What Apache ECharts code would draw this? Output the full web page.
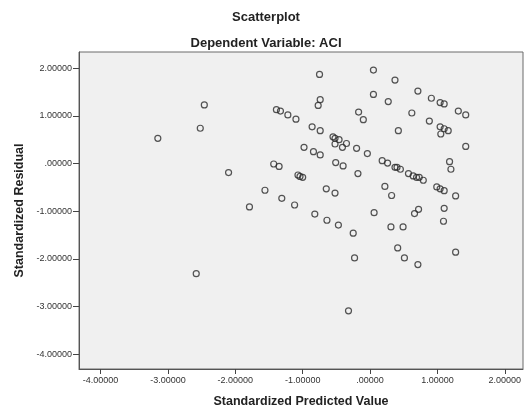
<!DOCTYPE html>
<html>
<head>
<meta charset="utf-8">
<script src="https://cdn.jsdelivr.net/npm/echarts@6/dist/echarts.min.js"></script>
<style>
    html, body { margin: 0; padding: 0; background: #fff; }
    #chart { width: 526px; height: 409px; }
</style>
</head>
<body>
<div id="chart"></div>
<script>
// 标准化预测值 (x) 与 标准化残差 (y)
const predicted = [
    -3.15, -2.46, -2.52, -2.58, -2.10, -1.79, -1.56, -1.43, -1.35, -1.39,
    -1.33, -1.22, -1.10, -1.31, -1.12, -1.07, -1.04, -1.00, -0.98, -0.84,
    -0.86, -0.74, -0.82, -0.74, -0.75, -0.74, -0.77, -0.64, -0.65, -0.52,
    -0.47, -0.55, -0.52, -0.46, -0.35, -0.52, -0.41, -0.20, -0.51, -0.40,
    -0.18, -0.25, -0.23, -0.32, -0.17, -0.10, -0.04, 0.05, 0.05, 0.37,
    0.27, 0.71, 0.91, 1.04, 1.10, 0.62, 0.88, 1.31, 1.42, 0.42,
    1.04, 1.10, 1.16, 1.05, 1.42, 0.18, 0.26, 0.37, 0.40, 0.45,
    0.57, 0.64, 0.69, 0.73, 0.79, 1.18, 1.20, 0.99, 1.04, 1.10,
    1.27, 0.22, 0.32, 0.06, 0.66, 0.72, 1.10, 1.09, 0.31, 0.49,
    0.41, 0.51, 0.71, 1.27
];
const residual = [
    0.53, 1.23, 0.74, -2.31, -0.19, -0.91, -0.56, -0.01, -0.06, 1.13,
    1.10, 1.02, 0.93, -0.73, -0.87, -0.24, -0.27, -0.29, 0.34, 0.25,
    0.77, 0.69, -1.06, 0.18, 1.87, 1.34, 1.22, -1.19, -0.53, -0.62,
    -1.29, 0.56, 0.53, 0.50, 0.42, 0.41, 0.34, 0.32, 0.02, -0.05,
    -0.21, -1.46, -1.98, -3.09, 1.08, 0.92, 0.21, 1.96, 1.45, 1.75,
    1.30, 1.52, 1.37, 1.28, 1.25, 1.06, 0.89, 1.10, 1.02, 0.69,
    0.77, 0.73, 0.69, 0.62, 0.36, 0.06, 0.01, -0.08, -0.08, -0.12,
    -0.21, -0.26, -0.29, -0.29, -0.35, 0.04, -0.12, -0.49, -0.53, -0.57,
    -0.68, -0.48, -0.67, -1.03, -1.05, -0.96, -0.94, -1.21, -1.33, -1.33,
    -1.77, -1.98, -2.12, -1.86
];
const xTicks = [-4, -3, -2, -1, 0, 1, 2];
const yTicks = [-4, -3, -2, -1, 0, 1, 2];

const fmt = v => (v < 0 ? '-' : '') + (v === 0 ? '' : Math.abs(v).toFixed(0)) + '.00000';

let chart = echarts.init(document.querySelector('#chart'));
let points = predicted.map((x, i) => [x, residual[i]]);

let option = {
    backgroundColor: '#fff',
    animation: false,
    title: [
        {
            text: 'Scatterplot',
            left: 266, top: 10.5, padding: 0,
            textAlign: 'center',
            textStyle: { fontFamily: 'Liberation Sans', fontSize: 13, fontWeight: 'bold', color: '#222' }
        },
        {
            text: 'Dependent Variable: ACI',
            left: 266, top: 36.5, padding: 0,
            textAlign: 'center',
            textStyle: { fontFamily: 'Liberation Sans', fontSize: 13, fontWeight: 'bold', color: '#222' }
        }
    ],
    grid: {
        left: 79, top: 52, right: 3, bottom: 40,
        outerBoundsMode: 'none',
        show: true,
        backgroundColor: '#f0f0f0',
        borderColor: '#6a6a6a',
        borderWidth: 1
    },
    xAxis: {
        type: 'value',
        min: -4.32, max: 2.27,
        name: 'Standardized Predicted Value',
        nameLocation: 'middle',
        nameGap: 26,
        nameTextStyle: { fontFamily: 'Liberation Sans', fontSize: 12.5, fontWeight: 'bold', color: '#222' },
        splitLine: { show: false },
        axisLine: { onZero: false, lineStyle: { color: '#555', width: 1 } },
        axisTick: { customValues: xTicks, length: 5, lineStyle: { color: '#444' } },
        axisLabel: {
            customValues: xTicks,
            formatter: fmt,
            margin: 7,
            fontFamily: 'Liberation Sans', fontSize: 9, color: '#333'
        }
    },
    yAxis: {
        type: 'value',
        min: -4.31, max: 2.34,
        name: 'Standardized Residual',
        nameLocation: 'middle',
        nameGap: 45,
        nameTextStyle: { fontFamily: 'Liberation Sans', fontSize: 12.5, fontWeight: 'bold', color: '#222' },
        splitLine: { show: false },
        axisLine: { show: true, onZero: false, lineStyle: { color: '#555', width: 1 } },
        axisTick: { show: true, customValues: yTicks, length: 6, lineStyle: { color: '#444' } },
        axisLabel: {
            customValues: yTicks,
            formatter: fmt,
            margin: 7,
            fontFamily: 'Liberation Sans', fontSize: 9, color: '#333'
        }
    },
    series: [
        {
            type: 'scatter',
            data: points,
            symbol: 'circle',
            symbolSize: 6,
            itemStyle: {
                color: 'rgba(0,0,0,0)',
                borderColor: '#2a2a2a',
                borderWidth: 1.2
            }
        }
    ]
};

chart.setOption(option);
window.addEventListener('resize', () => chart.resize());
</script>
</body>
</html>
